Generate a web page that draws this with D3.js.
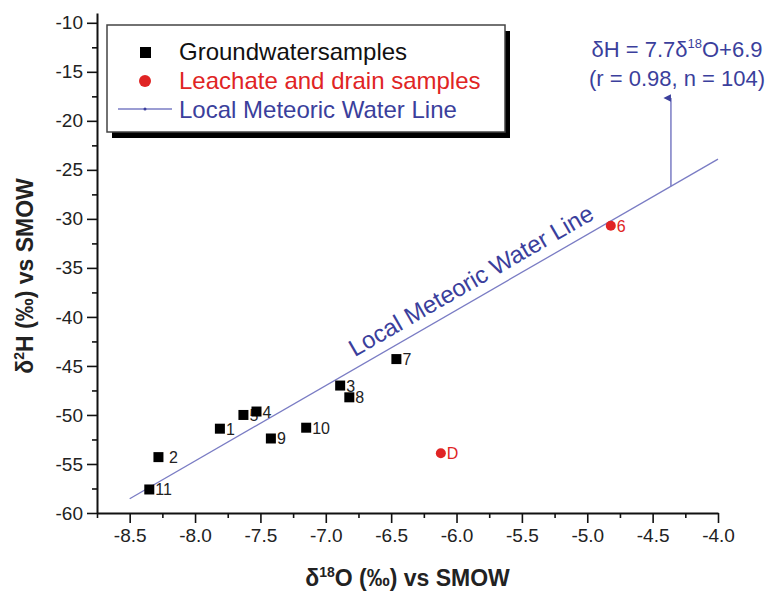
<!DOCTYPE html>
<html>
<head>
<meta charset="utf-8">
<script src="https://cdn.jsdelivr.net/npm/d3@7"></script>
<style>
  body { margin: 0; background: #fff; }
  svg { font-family: "Liberation Sans", Arial, sans-serif; }
  .axis path, .axis line { stroke: #111; }
  .axis text { font-size: 19px; fill: #222; }
</style>
</head>
<body>
<div id="chart"></div>
<script>
// groundwater samples (black squares)
var gwLabels = ["1", "\u00a02", "3", "4", "5", "7", "8", "9", "10", "11"];
var gwO18 = [-7.81, -8.28, -6.89, -7.53, -7.63, -6.46, -6.82, -7.42, -7.15, -8.35];
var gwH2 = [-51.4, -54.3, -47.0, -49.65, -50.0, -44.3, -48.2, -52.4, -51.3, -57.6];

// leachate and drain samples (red dots)
var leLabels = ["6", "D"];
var leO18 = [-4.82, -6.12];
var leH2 = [-30.7, -53.9];

// local meteoric water line  dH = 7.7 d18O + 6.9
var lmwlSlope = 7.7;
var lmwlIntercept = 6.9;
var lmwlRange = [-8.5, -4.0];
var arrowAt = -4.36;

var xTicks = [-8.5, -8.0, -7.5, -7.0, -6.5, -6.0, -5.5, -5.0, -4.5, -4.0];
var xMinorTicks = [-8.75, -8.25, -7.75, -7.25, -6.75, -6.25, -5.75, -5.25, -4.75, -4.25];
var yTicks = [-60, -55, -50, -45, -40, -35, -30, -25, -20, -15, -10];
var yMinorTicks = [-57.5, -52.5, -47.5, -42.5, -37.5, -32.5, -27.5, -22.5, -17.5, -12.5];

var width = 778, height = 592;
var blue = "#3b3f9c", lineBlue = "#7a7cc4", red = "#e02424";

var svg = d3.select("#chart").append("svg")
    .attr("width", width).attr("height", height);

var x = d3.scaleLinear().domain([-8.75, -4.0]).range([97, 718]);
var y = d3.scaleLinear().domain([-60, -9]).range([513, 13]);

function lmwl(o) { return lmwlSlope * o + lmwlIntercept; }

// axes
svg.append("g").attr("class", "axis x")
    .attr("transform", "translate(0," + y(-60) + ")")
    .call(d3.axisBottom(x).tickValues(xTicks).tickSize(10).tickSizeOuter(0)
        .tickPadding(6).tickFormat(function (d) { return d.toFixed(1); }));
svg.append("g").attr("class", "axis x minor")
    .attr("transform", "translate(0," + y(-60) + ")")
    .call(d3.axisBottom(x).tickValues(xMinorTicks).tickSize(5).tickFormat(""))
    .select(".domain").remove();

svg.append("g").attr("class", "axis y")
    .attr("transform", "translate(" + x(-8.75) + ",0)")
    .call(d3.axisLeft(y).tickValues(yTicks).tickSize(10).tickSizeOuter(0)
        .tickPadding(4).tickFormat(function (d) { return d; }));
svg.append("g").attr("class", "axis y minor")
    .attr("transform", "translate(" + x(-8.75) + ",0)")
    .call(d3.axisLeft(y).tickValues(yMinorTicks).tickSize(5).tickFormat(""))
    .select(".domain").remove();

svg.selectAll(".axis .domain").attr("stroke-width", 2);
svg.selectAll(".axis .tick line").attr("stroke-width", 1.6);

// axis titles
var xt = svg.append("text")
    .attr("x", (x.range()[0] + x.range()[1]) / 2).attr("y", 586)
    .attr("text-anchor", "middle")
    .style("font-size", "23px").style("font-weight", "bold").attr("fill", "#222");
xt.append("tspan").text("\u03b4");
xt.append("tspan").attr("dy", -9).style("font-size", "14px").text("18");
xt.append("tspan").attr("dy", 9).text("O (\u2030) vs SMOW");

var yt = svg.append("text")
    .attr("transform", "translate(33,276) rotate(-90)")
    .attr("text-anchor", "middle")
    .style("font-size", "23px").style("font-weight", "bold").attr("fill", "#222");
yt.append("tspan").text("\u03b4");
yt.append("tspan").attr("dy", -9).style("font-size", "14px").text("2");
yt.append("tspan").attr("dy", 9).text("H (\u2030) vs SMOW");

// LMWL
svg.append("line")
    .attr("x1", x(lmwlRange[0])).attr("y1", y(lmwl(lmwlRange[0])))
    .attr("x2", x(lmwlRange[1])).attr("y2", y(lmwl(lmwlRange[1])))
    .attr("stroke", lineBlue).attr("stroke-width", 1.3);

var angle = Math.atan2(y(lmwl(-4.0)) - y(lmwl(-8.5)), x(-4.0) - x(-8.5)) * 180 / Math.PI;
svg.append("text")
    .attr("transform", "translate(" + x(-6.74) + "," + y(lmwl(-6.74)) + ") rotate(" + angle + ")")
    .attr("dy", -10)
    .style("font-size", "24px").attr("fill", blue)
    .text("Local Meteoric Water Line");

// annotation arrow + equation
svg.append("defs").append("marker")
    .attr("id", "arrow").attr("viewBox", "0 0 10 10")
    .attr("refX", 5).attr("refY", 10)
    .attr("markerWidth", 5).attr("markerHeight", 7)
    .attr("orient", "auto-start-reverse")
    .append("path").attr("d", "M0,10 L5,0 L10,10 Z").attr("fill", blue);

svg.append("line")
    .attr("x1", x(arrowAt)).attr("y1", y(lmwl(arrowAt)))
    .attr("x2", x(arrowAt)).attr("y2", 98)
    .attr("stroke", lineBlue).attr("stroke-width", 1.5)
    .attr("marker-end", "url(#arrow)");

var eq = svg.append("text")
    .attr("x", 677).attr("y", 57).attr("text-anchor", "middle")
    .style("font-size", "22px").attr("fill", blue);
eq.append("tspan").text("\u03b4H = 7.7\u03b4");
eq.append("tspan").attr("dy", -9).style("font-size", "13px").text("18");
eq.append("tspan").attr("dy", 9).text("O+6.9");
svg.append("text")
    .attr("x", 677).attr("y", 86).attr("text-anchor", "middle")
    .style("font-size", "22px").attr("fill", blue)
    .text("(r = 0.98, n = 104)");

// point labels first, markers on top
var gw = gwO18.map(function (d, i) { return { o: d, h: gwH2[i], label: gwLabels[i] }; });
var le = leO18.map(function (d, i) { return { o: d, h: leH2[i], label: leLabels[i] }; });

svg.selectAll("text.gwlab").data(gw).enter().append("text")
    .attr("class", "gwlab")
    .attr("x", function (d) { return x(d.o) + 6; })
    .attr("y", function (d) { return y(d.h) + 6; })
    .style("font-size", "16px").attr("fill", "#222")
    .text(function (d) { return d.label; });

svg.selectAll("text.lelab").data(le).enter().append("text")
    .attr("class", "lelab")
    .attr("x", function (d) { return x(d.o) + 6; })
    .attr("y", function (d) { return y(d.h) + 6; })
    .style("font-size", "16px").attr("fill", red)
    .text(function (d) { return d.label; });

svg.selectAll("rect.gw").data(gw).enter().append("rect")
    .attr("class", "gw")
    .attr("x", function (d) { return x(d.o) - 5; })
    .attr("y", function (d) { return y(d.h) - 5; })
    .attr("width", 10).attr("height", 10)
    .attr("fill", "#000");

svg.selectAll("circle.le").data(le).enter().append("circle")
    .attr("class", "le")
    .attr("cx", function (d) { return x(d.o); })
    .attr("cy", function (d) { return y(d.h); })
    .attr("r", 5).attr("fill", red);

// legend
var lg = svg.append("g").attr("transform", "translate(107,25)");
lg.append("rect").attr("x", 5).attr("y", 6).attr("width", 398).attr("height", 107).attr("fill", "#000");
lg.append("rect").attr("width", 398).attr("height", 107)
    .attr("fill", "#fff").attr("stroke", "#444").attr("stroke-width", 1.5);

lg.append("rect").attr("x", 33).attr("y", 22).attr("width", 11).attr("height", 11).attr("fill", "#000");
lg.append("text").attr("x", 72).attr("y", 35).style("font-size", "24px").attr("fill", "#111")
    .text("Groundwatersamples");

lg.append("circle").attr("cx", 38).attr("cy", 56).attr("r", 6).attr("fill", red);
lg.append("text").attr("x", 72).attr("y", 64).style("font-size", "24px").attr("fill", red)
    .text("Leachate and drain samples");

lg.append("line").attr("x1", 11).attr("x2", 65).attr("y1", 84).attr("y2", 84)
    .attr("stroke", lineBlue).attr("stroke-width", 1.3);
lg.append("circle").attr("cx", 38).attr("cy", 84).attr("r", 1.5).attr("fill", blue);
lg.append("text").attr("x", 72).attr("y", 93).style("font-size", "24px").attr("fill", blue)
    .text("Local Meteoric Water Line");
</script>
</body>
</html>
